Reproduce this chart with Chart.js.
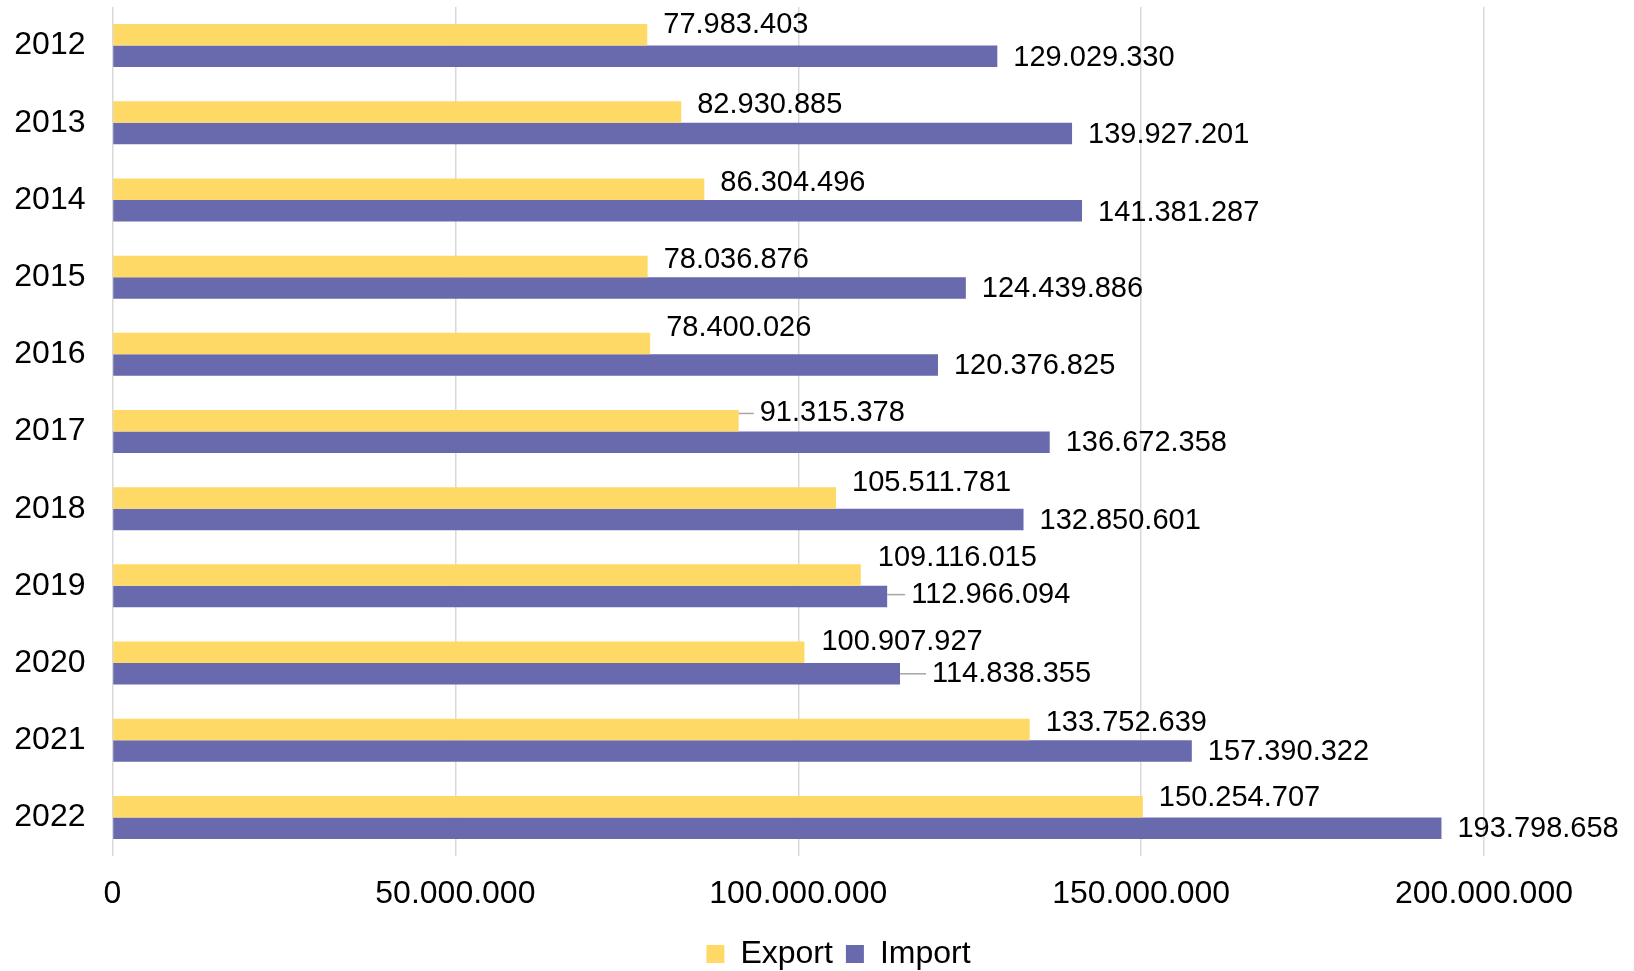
<!DOCTYPE html>
<html>
<head>
<meta charset="utf-8">
<script src="https://cdn.jsdelivr.net/npm/chart.js@4/dist/chart.umd.min.js"></script>
<style>
  html, body { margin: 0; padding: 0; background: #fff; }
  #wrap { width: 1634px; height: 971px; position: relative; }
</style>
</head>
<body>
<div id="wrap"><canvas id="chart"></canvas></div>
<script>
// ── Data ──────────────────────────────────────────────
const years      = ['2012', '2013', '2014', '2015', '2016', '2017', '2018', '2019', '2020', '2021', '2022'];
const exportVals = [77983403, 82930885, 86304496, 78036876, 78400026, 91315378, 105511781, 109116015, 100907927, 133752639, 150254707];
const importVals = [129029330, 139927201, 141381287, 124439886, 120376825, 136672358, 132850601, 112966094, 114838355, 157390322, 193798658];
const xTicks     = [0, 50000000, 100000000, 150000000, 200000000];

const FONT = '"Liberation Sans", Arial, sans-serif';
const LEGEND_PAD = 13;

function fmt(v) {
  return String(v).replace(/\B(?=(\d{3})+(?!\d))/g, '.');
}

// ── Value labels (manually nudged like the original) ──
const labelPlugin = {
  id: 'valueLabels',
  afterDatasetsDraw(chart, args, opts) {
    const ctx = chart.ctx;
    ctx.save();
    ctx.font = '29px ' + FONT;
    ctx.fillStyle = '#000';
    ctx.textAlign = 'left';
    ctx.textBaseline = 'middle';
    chart.data.datasets.forEach((ds, di) => {
      const meta = chart.getDatasetMeta(di);
      const tweak = opts.tweaks[di];
      meta.data.forEach((bar, i) => {
        const gap = tweak.gap[i] ?? 16;
        const y = bar.y + tweak.dy[i];
        const x = bar.x + gap;
        if (tweak.leader.includes(i)) {
          ctx.strokeStyle = '#a6a6a6';
          ctx.lineWidth = 1.5;
          ctx.beginPath();
          ctx.moveTo(bar.x, y);
          ctx.lineTo(x - 6, y);
          ctx.stroke();
        }
        ctx.fillText(fmt(ds.data[i]), x, y);
      });
    });
    ctx.restore();
  }
};

// put the legend where the original has it (centred a bit right, low down)
const legendShift = {
  id: 'legendShift',
  afterLayout(chart) {
    const lg = chart.legend;
    if (!lg) return;
    lg.left = 43;
    lg.right = chart.width;
    const h = lg.bottom - lg.top;
    lg.top = 954 - LEGEND_PAD - 16;
    lg.bottom = lg.top + h;
  }
};

new Chart(document.getElementById('chart'), {
  type: 'bar',
  data: {
    labels: years,
    datasets: [
      {
        label: 'Export',
        data: exportVals,
        backgroundColor: '#FFD966',
        categoryPercentage: 0.557,
        barPercentage: 1.0,
      },
      {
        label: 'Import',
        data: importVals,
        backgroundColor: '#6969AD',
        categoryPercentage: 0.557,
        barPercentage: 1.0,
      },
    ],
  },
  options: {
    indexAxis: 'y',
    responsive: true,
    maintainAspectRatio: false,
    animation: false,
    layout: { padding: { left: 0, right: 150, top: 7, bottom: 0 } },
    plugins: {
      legend: {
        position: 'bottom',
        labels: {
          color: '#000',
          font: { family: FONT, size: 32 },
          boxWidth: 18,
          boxHeight: 18,
          padding: LEGEND_PAD,
        },
      },
      tooltip: { enabled: false },
      valueLabels: {
        tweaks: [
          {
            dy: [-9.5, -7, -6.7, -6.5, -15.4, -7.3, -15, -17.5, -10.5, -6.5, -8.7],
            gap: { 5: 21, 7: 17, 8: 17 },
            leader: [5],
          },
          {
            dy: [2, 1, 2, 1, 0.7, 0.5, 1.3, -2, 0, 1.5, 1],
            gap: { 7: 24, 8: 32 },
            leader: [7, 8],
          },
        ],
      },
    },
    scales: {
      x: {
        min: 0,
        max: 200000000,
        afterBuildTicks: axis => { axis.ticks = xTicks.map(v => ({ value: v })); },
        afterFit: axis => { axis.height = 60; },
        grid: { color: '#d9d9d9', lineWidth: 1.5, drawTicks: false },
        border: { display: false },
        ticks: {
          color: '#000',
          font: { family: FONT, size: 32 },
          padding: 19,
          maxRotation: 0,
          callback: v => fmt(v),
        },
      },
      y: {
        grid: { display: false, drawTicks: false },
        border: { display: false },
        afterFit: axis => {
          axis.width = 112.5;
          axis.paddingTop = 0;
          axis.paddingBottom = 0;
        },
        ticks: {
          color: '#000',
          font: { family: FONT, size: 32 },
          padding: 27,
        },
      },
    },
  },
  plugins: [labelPlugin, legendShift],
});
</script>
</body>
</html>
